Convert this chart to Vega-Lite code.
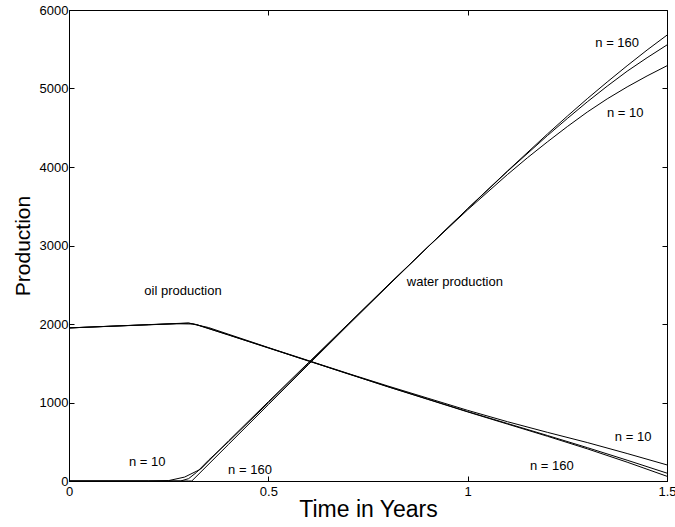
{
  "$schema": "https://vega.github.io/schema/vega-lite/v6.json",
  "width": 598,
  "height": 471,
  "autosize": "none",
  "padding": {"left": 69, "top": 10, "right": 8, "bottom": 46},
  "background": "white",
  "config": {
    "view": {"stroke": "black", "strokeWidth": 1},
    "font": "Liberation Sans",
    "axis": {
      "grid": false,
      "domainColor": "black",
      "tickColor": "black",
      "labelColor": "black",
      "titleColor": "black",
      "labelFont": "Liberation Sans",
      "titleFont": "Liberation Sans",
      "labelFontSize": 13,
      "titleFontSize": 21,
      "titleFontWeight": "normal",
      "tickSize": -5
    }
  },
  "datasets": {
    "curves": [
      {"t": 0, "q": 0, "s": "water n=160"},
      {"t": 0.1, "q": 0, "s": "water n=160"},
      {"t": 0.2, "q": 0, "s": "water n=160"},
      {"t": 0.3, "q": 0, "s": "water n=160"},
      {"t": 0.308, "q": 0, "s": "water n=160"},
      {"t": 0.4, "q": 466, "s": "water n=160"},
      {"t": 0.5, "q": 973, "s": "water n=160"},
      {"t": 0.6, "q": 1480, "s": "water n=160"},
      {"t": 0.7, "q": 1985, "s": "water n=160"},
      {"t": 0.8, "q": 2485, "s": "water n=160"},
      {"t": 0.9, "q": 2980, "s": "water n=160"},
      {"t": 1.0, "q": 3470, "s": "water n=160"},
      {"t": 1.1, "q": 3950, "s": "water n=160"},
      {"t": 1.2, "q": 4420, "s": "water n=160"},
      {"t": 1.25, "q": 4648, "s": "water n=160"},
      {"t": 1.3, "q": 4870, "s": "water n=160"},
      {"t": 1.35, "q": 5083, "s": "water n=160"},
      {"t": 1.4, "q": 5290, "s": "water n=160"},
      {"t": 1.45, "q": 5490, "s": "water n=160"},
      {"t": 1.5, "q": 5680, "s": "water n=160"},

      {"t": 0, "q": 0, "s": "water n=40"},
      {"t": 0.2, "q": 0, "s": "water n=40"},
      {"t": 0.28, "q": 0, "s": "water n=40"},
      {"t": 0.3, "q": 30, "s": "water n=40"},
      {"t": 0.32, "q": 110, "s": "water n=40"},
      {"t": 0.35, "q": 265, "s": "water n=40"},
      {"t": 0.4, "q": 500, "s": "water n=40"},
      {"t": 0.5, "q": 995, "s": "water n=40"},
      {"t": 0.6, "q": 1495, "s": "water n=40"},
      {"t": 0.7, "q": 1995, "s": "water n=40"},
      {"t": 0.8, "q": 2490, "s": "water n=40"},
      {"t": 0.9, "q": 2982, "s": "water n=40"},
      {"t": 1.0, "q": 3468, "s": "water n=40"},
      {"t": 1.1, "q": 3945, "s": "water n=40"},
      {"t": 1.2, "q": 4400, "s": "water n=40"},
      {"t": 1.25, "q": 4618, "s": "water n=40"},
      {"t": 1.3, "q": 4830, "s": "water n=40"},
      {"t": 1.35, "q": 5030, "s": "water n=40"},
      {"t": 1.4, "q": 5220, "s": "water n=40"},
      {"t": 1.45, "q": 5392, "s": "water n=40"},
      {"t": 1.5, "q": 5555, "s": "water n=40"},

      {"t": 0, "q": 0, "s": "water n=10"},
      {"t": 0.2, "q": 0, "s": "water n=10"},
      {"t": 0.25, "q": 5, "s": "water n=10"},
      {"t": 0.29, "q": 50, "s": "water n=10"},
      {"t": 0.33, "q": 150, "s": "water n=10"},
      {"t": 0.4, "q": 510, "s": "water n=10"},
      {"t": 0.5, "q": 1010, "s": "water n=10"},
      {"t": 0.6, "q": 1505, "s": "water n=10"},
      {"t": 0.7, "q": 2000, "s": "water n=10"},
      {"t": 0.8, "q": 2495, "s": "water n=10"},
      {"t": 0.9, "q": 2980, "s": "water n=10"},
      {"t": 1.0, "q": 3455, "s": "water n=10"},
      {"t": 1.1, "q": 3905, "s": "water n=10"},
      {"t": 1.15, "q": 4118, "s": "water n=10"},
      {"t": 1.2, "q": 4320, "s": "water n=10"},
      {"t": 1.25, "q": 4515, "s": "water n=10"},
      {"t": 1.3, "q": 4700, "s": "water n=10"},
      {"t": 1.35, "q": 4868, "s": "water n=10"},
      {"t": 1.4, "q": 5020, "s": "water n=10"},
      {"t": 1.45, "q": 5160, "s": "water n=10"},
      {"t": 1.5, "q": 5290, "s": "water n=10"},

      {"t": 0, "q": 1950, "s": "oil n=160"},
      {"t": 0.1, "q": 1971, "s": "oil n=160"},
      {"t": 0.2, "q": 1992, "s": "oil n=160"},
      {"t": 0.3, "q": 2013, "s": "oil n=160"},
      {"t": 0.32, "q": 1990, "s": "oil n=160"},
      {"t": 0.4, "q": 1860, "s": "oil n=160"},
      {"t": 0.5, "q": 1695, "s": "oil n=160"},
      {"t": 0.6, "q": 1530, "s": "oil n=160"},
      {"t": 0.7, "q": 1365, "s": "oil n=160"},
      {"t": 0.8, "q": 1200, "s": "oil n=160"},
      {"t": 0.9, "q": 1040, "s": "oil n=160"},
      {"t": 1.0, "q": 880, "s": "oil n=160"},
      {"t": 1.1, "q": 725, "s": "oil n=160"},
      {"t": 1.2, "q": 570, "s": "oil n=160"},
      {"t": 1.3, "q": 410, "s": "oil n=160"},
      {"t": 1.4, "q": 240, "s": "oil n=160"},
      {"t": 1.5, "q": 60, "s": "oil n=160"},

      {"t": 0, "q": 1950, "s": "oil n=40"},
      {"t": 0.1, "q": 1971, "s": "oil n=40"},
      {"t": 0.2, "q": 1991, "s": "oil n=40"},
      {"t": 0.3, "q": 2010, "s": "oil n=40"},
      {"t": 0.32, "q": 1993, "s": "oil n=40"},
      {"t": 0.4, "q": 1862, "s": "oil n=40"},
      {"t": 0.5, "q": 1697, "s": "oil n=40"},
      {"t": 0.6, "q": 1531, "s": "oil n=40"},
      {"t": 0.7, "q": 1366, "s": "oil n=40"},
      {"t": 0.8, "q": 1202, "s": "oil n=40"},
      {"t": 0.9, "q": 1043, "s": "oil n=40"},
      {"t": 1.0, "q": 884, "s": "oil n=40"},
      {"t": 1.1, "q": 732, "s": "oil n=40"},
      {"t": 1.2, "q": 580, "s": "oil n=40"},
      {"t": 1.3, "q": 425, "s": "oil n=40"},
      {"t": 1.4, "q": 265, "s": "oil n=40"},
      {"t": 1.5, "q": 100, "s": "oil n=40"},

      {"t": 0, "q": 1950, "s": "oil n=10"},
      {"t": 0.1, "q": 1970, "s": "oil n=10"},
      {"t": 0.2, "q": 1990, "s": "oil n=10"},
      {"t": 0.27, "q": 2003, "s": "oil n=10"},
      {"t": 0.31, "q": 2000, "s": "oil n=10"},
      {"t": 0.35, "q": 1955, "s": "oil n=10"},
      {"t": 0.4, "q": 1870, "s": "oil n=10"},
      {"t": 0.5, "q": 1700, "s": "oil n=10"},
      {"t": 0.6, "q": 1535, "s": "oil n=10"},
      {"t": 0.7, "q": 1370, "s": "oil n=10"},
      {"t": 0.8, "q": 1210, "s": "oil n=10"},
      {"t": 0.9, "q": 1055, "s": "oil n=10"},
      {"t": 1.0, "q": 900, "s": "oil n=10"},
      {"t": 1.1, "q": 755, "s": "oil n=10"},
      {"t": 1.2, "q": 620, "s": "oil n=10"},
      {"t": 1.3, "q": 490, "s": "oil n=10"},
      {"t": 1.4, "q": 350, "s": "oil n=10"},
      {"t": 1.5, "q": 205, "s": "oil n=10"}
    ],
    "notes": [
      {"t": 0.286, "q": 2420, "label": "oil production"},
      {"t": 0.968, "q": 2535, "label": "water production"},
      {"t": 1.375, "q": 5580, "label": "n = 160"},
      {"t": 1.395, "q": 4690, "label": "n = 10"},
      {"t": 1.415, "q": 560, "label": "n = 10"},
      {"t": 1.211, "q": 190, "label": "n = 160"},
      {"t": 0.196, "q": 240, "label": "n = 10"},
      {"t": 0.454, "q": 140, "label": "n = 160"}
    ]
  },
  "layer": [
    {
      "data": {"name": "curves"},
      "mark": {"type": "line", "color": "black", "strokeWidth": 1, "clip": true},
      "encoding": {
        "x": {
          "field": "t", "type": "quantitative",
          "scale": {"domain": [0, 1.5], "nice": false, "zero": false},
          "axis": {"values": [0, 0.5, 1, 1.5], "format": "~g", "title": "Time in Years", "titleFontSize": 23, "labelPadding": 9, "titlePadding": 0, "labelFlush": false}
        },
        "y": {
          "field": "q", "type": "quantitative",
          "scale": {"domain": [0, 6000], "nice": false},
          "axis": {"values": [0, 1000, 2000, 3000, 4000, 5000, 6000], "format": "d", "title": "Production", "labelPadding": 6, "titlePadding": 6, "labelFlush": false}
        },
        "detail": {"field": "s", "type": "nominal"}
      }
    },
    {
      "data": {"name": "notes"},
      "mark": {"type": "text", "color": "black", "fontSize": 13, "font": "Liberation Sans", "align": "center", "baseline": "middle"},
      "encoding": {
        "x": {"field": "t", "type": "quantitative", "scale": {"domain": [0, 1.5], "nice": false, "zero": false}, "axis": null},
        "y": {"field": "q", "type": "quantitative", "scale": {"domain": [0, 6000], "nice": false}, "axis": null},
        "text": {"field": "label"}
      }
    },
    {
      "data": {"name": "notes"},
      "mark": {"type": "point", "opacity": 0},
      "encoding": {
        "x": {"field": "t", "type": "quantitative", "scale": {"domain": [0, 1.5], "nice": false, "zero": false},
          "axis": {"orient": "top", "values": [0, 0.5, 1, 1.5], "labels": false, "title": null, "domain": false}},
        "y": {"field": "q", "type": "quantitative", "scale": {"domain": [0, 6000], "nice": false},
          "axis": {"orient": "right", "values": [0, 1000, 2000, 3000, 4000, 5000, 6000], "labels": false, "title": null, "domain": false}}
      }
    }
  ],
  "resolve": {"scale": {"x": "independent", "y": "independent"}, "axis": {"x": "independent", "y": "independent"}}
}
